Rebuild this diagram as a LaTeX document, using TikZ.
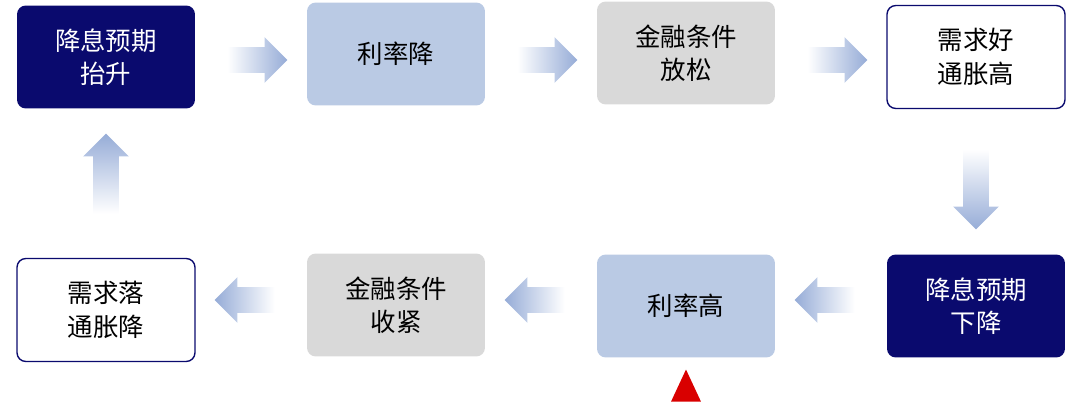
\documentclass[tikz,border=0pt]{standalone}
\usepackage{fontspec}
\setmainfont{Noto Sans CJK SC}
\usetikzlibrary{shapes.arrows, shapes.geometric}
\definecolor{navy}{RGB}{10,10,110}
\definecolor{paleblue}{RGB}{186,202,228}
\definecolor{palegray}{RGB}{217,217,217}
\definecolor{arrowc}{RGB}{150,172,215}
\tikzset{
  box/.style={rounded corners=5pt, minimum width=3.56cm, minimum height=2.06cm,
    align=center, font=\fontsize{14.5}{19}\selectfont},
  darkbox/.style={box, fill=navy, text=white},
  bluebox/.style={box, fill=paleblue},
  graybox/.style={box, fill=palegray},
  whitebox/.style={box, draw=navy, line width=0.8pt, fill=white},
  blk/.style={single arrow, minimum height=1.2cm, inner xsep=0pt, inner ysep=0.25cm,
    single arrow head extend=0.2cm},
  vblk/.style={blk, inner xsep=0.25cm, inner ysep=0pt, minimum height=1.6cm},
  toright/.style={blk, left color=white, right color=arrowc},
  toleft/.style={blk, shape border rotate=180, left color=arrowc, right color=white},
  todown/.style={vblk, shape border rotate=270, top color=white, bottom color=arrowc},
  toup/.style={vblk, shape border rotate=90, top color=arrowc, bottom color=white}
}
\begin{document}
\begin{tikzpicture}[x=0.02cm, y=-0.02cm]
\useasboundingbox (0,0) rectangle (1080,418);
% top row
\node[darkbox] (expup) at (106,57) {降息预期\\抬升};
\node[bluebox] (ratedown) at (396,54) {利率降};
\node[graybox] (finloose) at (686,53) {金融条件\\放松};
\node[whitebox] (demgood) at (976,57) {需求好\\通胀高};
% bottom row
\node[whitebox] (demweak) at (106,310) {需求落\\通胀降};
\node[graybox] (fintight) at (396,305) {金融条件\\收紧};
\node[bluebox] (ratehigh) at (686,306) {利率高};
\node[darkbox] (expdown) at (976,306) {降息预期\\下降};
% block arrows
\node[toright] (a1) at (251,60) {};
\node[toright] (a2) at (541,60) {};
\node[toright] (a3) at (831,60) {};
\node[todown] (a4) at (976,183) {};
\node[toleft] (a5) at (831,300) {};
\node[toleft] (a6) at (541,300) {};
\node[toleft] (a7) at (251,300) {};
\node[toup] (a8) at (106,180) {};
% marker
\node[isosceles triangle, shape border rotate=90, isosceles triangle apex angle=50,
  fill=red!85!black, minimum height=0.64cm, inner sep=0pt] (mark) at (686,392) {};
\end{tikzpicture}
\end{document}
